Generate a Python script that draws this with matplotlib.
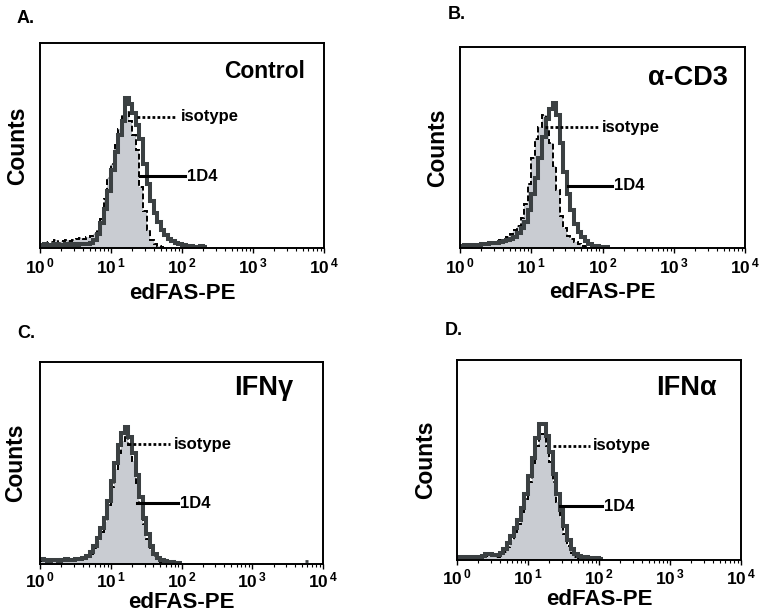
import numpy as np
import matplotlib
matplotlib.use("Agg")
import matplotlib.pyplot as plt

plt.rcParams["font.family"] = ["Liberation Sans", "DejaVu Sans"]
plt.rcParams["font.weight"] = "bold"
plt.rcParams["mathtext.fontset"] = "custom"
plt.rcParams["mathtext.rm"] = "Liberation Sans:weight=bold"
plt.rcParams["mathtext.it"] = "Liberation Sans:weight=bold"
plt.rcParams["mathtext.bf"] = "Liberation Sans:weight=bold"

# histogram channels: log10 bin edges of edFAS-PE intensity (10^0 .. 10^2.5)
log_edges = np.linspace(0, 2.5, 51)

# counts, in % of the y axis height
a_1d4 = [1.5, 2, 1.5, 1.5, 2, 1.5, 1.5, 2, 1.5, 2, 1.5, 2, 2, 2,
         2.5, 4, 7, 12, 19, 28, 38, 47, 55, 62, 73, 70, 66, 60, 53, 41, 31, 23,
         17, 12.5, 9, 6.5, 4.5, 3.5, 2.5, 2, 1.5, 1, 0.8, 0.5, 0.5, 1.2, 0.3,
         0, 0, 0]
a_iso = [2, 3, 2, 3, 4, 2.5, 3.5, 4, 3.5, 4, 4.5, 5, 4.5, 5.5,
         6, 7, 9, 14, 24, 34, 41, 50, 58, 65, 67, 62, 55, 48, 30, 18, 9, 4, 2,
         1, 0.5, 0, 0, 0, 0, 0, 0, 0, 0, 0, 0, 0, 0, 0, 0, 0]
b_1d4 = [1, 1.5, 1, 1.5, 1.5, 1.5, 2, 2, 2.5, 2.5,
         2.5, 3, 3.5, 4, 4.5, 5.5, 7.5, 10, 13, 19, 27, 35, 45, 55, 64, 69, 72,
         66, 52, 38, 27, 19, 12, 8, 5.5, 3.5, 2, 1, 0.8, 0.5, 0.5, 0.3,
         0, 0, 0, 0, 0, 0, 0, 0]
b_iso = [1.5, 2, 1.5, 1.5, 2, 2, 2.5, 2.5, 3,
         3, 3.5, 4, 4.5, 5.5, 7, 9, 11, 15, 22, 32, 45, 54, 60, 66, 59, 52, 41,
         29, 16, 10, 6, 4.5, 3, 2, 1, 0.5,
         0, 0, 0, 0, 0, 0, 0, 0, 0, 0, 0, 0, 0, 0]
c_1d4 = [2.5, 2, 1.5, 2, 2, 1.5, 2, 2.5, 2, 2, 2.5, 2.5,
         3, 4, 6, 9, 13, 18, 23, 31, 41, 50, 59, 65, 68, 63, 55, 44, 33, 23, 15,
         9, 5, 3, 2, 1.5, 1, 0.8, 0.5, 0.3,
         0, 0, 0, 0, 0, 0, 0, 0, 0, 0]
c_iso = [1.5, 1.5, 1, 1.5, 1.5, 1, 1.5, 2, 1.5, 2, 2, 2,
         2.5, 3.5, 5, 8, 11.5, 16, 21, 29, 38, 47, 55, 61, 64, 59, 51, 40, 30,
         20, 12.5, 7, 4, 2, 1, 0.5,
         0, 0, 0, 0, 0, 0, 0, 0, 0, 0, 0, 0, 0, 0]
c_far_event = (5800, 1.5)  # single bright event in panel C
d_1d4 = [1.5, 1.5, 1.5, 1.5, 1.5, 1.5, 1.5, 2, 3, 3, 2.5,
         2.5, 3.5, 5.5, 8.5, 12, 16, 20, 26, 33, 42, 51, 61, 68, 68, 62, 54, 43,
         33, 25, 17, 10, 5.5, 3, 2, 1.5, 1.5, 1, 1, 1, 0.5,
         0, 0, 0, 0, 0, 0, 0, 0, 0]
d_iso = [1.5, 1.5, 1.5, 1.5, 1.5, 1.5, 1.5, 1.5, 2, 2.5, 2, 1.5,
         2.5, 4, 6.5, 10, 14, 18, 24, 30.5, 39, 48, 57, 63, 63, 57, 49, 39, 29,
         21, 13, 7, 3.5, 1.5, 0.8, 0.3,
         0, 0, 0, 0, 0, 0, 0, 0, 0, 0, 0, 0, 0, 0]

letters = ["A.", "B.", "C.", "D."]
titles = ["Control", "α-CD3", "IFNγ", "IFNα"]
tick_vals = [1, 10, 100, 1000, 10000]
tick_labels = [r"$\mathbf{10^{\,0}}$", r"$\mathbf{10^{\,1}}$", r"$\mathbf{10^{\,2}}$",
               r"$\mathbf{10^{\,3}}$", r"$\mathbf{10^{\,4}}$"]

# layout: axes rect, title pos/size, letter pos, label pads, annotation lines
layout = [
    dict(rect=[0.0525, 0.5974, 0.3727, 0.3328], tpos=(0.933, 0.859), tsize=16.5, lpos=(0.022, 0.970),
         xpad=5, ypad=8, tpad=2.5, iso=(23, 85, 64), d4=(25.6, 110, 35)),
    dict(rect=[0.6037, 0.5974, 0.3740, 0.3263], tpos=(0.940, 0.846), tsize=19.5, lpos=(0.587, 0.977),
         xpad=4.5, ypad=8, tpad=2.5, iso=(15.5, 87, 60), d4=(33, 135, 31)),
    dict(rect=[0.0525, 0.0844, 0.3714, 0.3279], tpos=(0.894, 0.871), tsize=19.5, lpos=(0.022, 0.459),
         xpad=0.5, ypad=9, tpad=1.5, iso=(17.5, 69, 59.4), d4=(23.5, 89, 30)),
    dict(rect=[0.5997, 0.0909, 0.3727, 0.3247], tpos=(0.915, 0.860), tsize=19.5, lpos=(0.584, 0.463),
         xpad=0.8, ypad=14, tpad=2, iso=(22.4, 74, 57), d4=(28, 110, 27)),
]

data = [(a_1d4, a_iso), (b_1d4, b_iso), (c_1d4, c_iso), (d_1d4, d_iso)]

line_col = "#3b4042"
fill_col = "#c9ccd2"
edges = 10 ** log_edges

fig = plt.figure(figsize=(7.62, 6.16), dpi=100)

for k, (lay, (d4, iso)) in enumerate(zip(layout, data)):
    ax = fig.add_axes(lay["rect"])
    iso = np.array(iso)
    d4 = np.array(d4)
    n_iso = np.max(np.nonzero(iso)) + 1
    n_d4 = np.max(np.nonzero(d4)) + 1
    ax.stairs(iso[:n_iso], edges[:n_iso + 1], fill=True, color=fill_col, lw=0)
    ax.stairs(iso[:n_iso], edges[:n_iso + 1], color="black", lw=1.4,
              linestyle=(0, (3, 1.5)), baseline=None)
    ax.stairs(d4[:n_d4], edges[:n_d4 + 1], color=line_col, lw=2.9, baseline=None)
    if k == 2:
        x, h = c_far_event
        ax.stairs([h], [x * 0.95, x * 1.05], color=line_col, lw=2.0, baseline=None)

    ax.set_xscale("log")
    ax.set_xlim(1, 1e4)
    ax.set_ylim(0, 100)
    ax.set_yticks([])
    ax.set_xticks(tick_vals)
    ax.set_xticklabels(tick_labels, fontsize=12.5)
    ax.tick_params(axis="x", which="major", direction="out", length=3.5, width=1, pad=lay["tpad"])
    ax.tick_params(axis="x", which="minor", direction="out", length=2, width=0.8)
    for sp in ax.spines.values():
        sp.set_linewidth(1.4)
    ax.set_xlabel("edFAS-PE", fontsize=16, fontweight="bold", labelpad=lay["xpad"])
    ax.set_ylabel("Counts", fontsize=16.5, fontweight="bold", labelpad=lay["ypad"])

    ax.text(lay["tpos"][0], lay["tpos"][1], titles[k], transform=ax.transAxes,
            ha="right", va="center", fontsize=lay["tsize"], fontweight="bold")
    fig.text(lay["lpos"][0], lay["lpos"][1], letters[k], ha="left", va="center",
             fontsize=13, fontweight="bold")

    x0, x1, y = lay["iso"]
    ax.plot([x0, x1], [y, y], color="black", lw=2, linestyle=(0, (1, 0.8)))
    ax.text(x1 * 1.12, y, "isotype", ha="left", va="center", fontsize=12, fontweight="bold")
    x0, x1, y = lay["d4"]
    ax.plot([x0, x1], [y, y], color="black", lw=2.2)
    ax.text(x1 * 1.06, y, "1D4", ha="left", va="center", fontsize=12, fontweight="bold")

fig.savefig("out.png", dpi=100)
